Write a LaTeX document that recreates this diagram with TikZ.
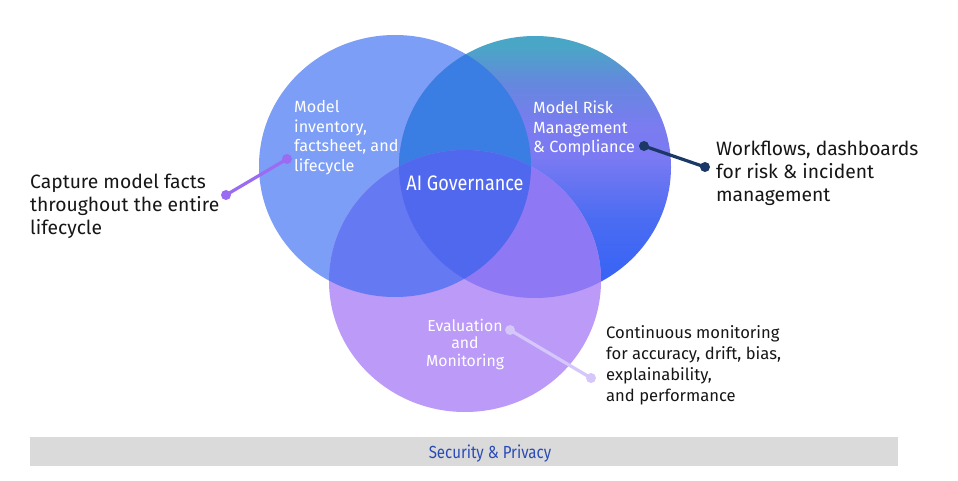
\documentclass[tikz,border=0pt]{standalone}
\usepackage{fontspec}
\setmainfont{Fira Sans}
\newfontfamily\condfont[FakeStretch=0.86]{Fira Sans}
\newcommand\mlines[2]{\begin{tabular}[t]{@{}#1@{}}#2\end{tabular}}
\definecolor{Lc}{HTML}{7C9EF6}
\definecolor{Bc}{HTML}{BC9AF8}
\definecolor{LRc}{HTML}{3A7DE3}
\definecolor{LBc}{HTML}{6479F2}
\definecolor{RBc}{HTML}{8F78F3}
\definecolor{LRBc}{HTML}{5068EE}
\definecolor{conL}{HTML}{9B6CF2}
\definecolor{conR}{HTML}{1C3867}
\definecolor{conB}{HTML}{D6C7FA}
\definecolor{barc}{HTML}{DADADA}
\definecolor{bartext}{HTML}{2A4BB5}
\definecolor{txt}{HTML}{161616}
\definecolor{Ra}{HTML}{3A64F5}
\definecolor{Rb}{HTML}{4A6CF2}
\definecolor{Rc}{HTML}{7B7AF2}
\definecolor{Rd}{HTML}{7A7CF0}
\definecolor{Re}{HTML}{6488DE}
\definecolor{Rf}{HTML}{4AA6C6}
\pgfdeclareverticalshading{rshade}{100bp}{color(0bp)=(Ra); color(30bp)=(Ra); color(40bp)=(Rb); color(52bp)=(Rc); color(58bp)=(Rd); color(66bp)=(Re); color(73bp)=(Rf); color(100bp)=(Rf)}
\tikzset{
  intext/.style={text=white, inner sep=0pt, font=\fontsize{16.2}{19.5}\selectfont},
  outtext/.style={text=txt, inner sep=0pt, font=\fontsize{19.3}{23}\selectfont},
  montext/.style={text=txt, inner sep=0pt, font=\fontsize{16.6}{21}\selectfont},
  dot/.style={circle, fill=#1, inner sep=0pt, minimum size=10pt},
  conn/.style={draw=#1, line width=3.2pt}
}
\begin{document}
\begin{tikzpicture}[x=1pt,y=-1pt]
\useasboundingbox (0,0) rectangle (958,481);
\fill[white] (0,0) rectangle (958,481);
% circles
\fill[Lc] (395,166) ellipse [x radius=136pt, y radius=131pt];
\shade[shading=rshade] (535,167) ellipse [x radius=136pt, y radius=131pt];
\fill[Bc] (465,281) ellipse [x radius=136pt, y radius=131pt];
\begin{scope}
  \clip (395,166) ellipse [x radius=136pt, y radius=131pt];
  \fill[LRc] (535,167) ellipse [x radius=136pt, y radius=131pt];
\end{scope}
\begin{scope}
  \clip (465,281) ellipse [x radius=136pt, y radius=131pt];
  \fill[LBc] (395,166) ellipse [x radius=136pt, y radius=131pt];
  \fill[RBc] (535,167) ellipse [x radius=136pt, y radius=131pt];
\end{scope}
\begin{scope}
  \clip (465,281) ellipse [x radius=136pt, y radius=131pt];
  \clip (395,166) ellipse [x radius=136pt, y radius=131pt];
  \fill[LRBc] (535,167) ellipse [x radius=136pt, y radius=131pt];
\end{scope}
% inner texts
\node[intext, anchor=base west] (inv) at (294,113) {\mlines{l}{Model\\inventory,\\factsheet, and\\lifecycle}};
\node[intext, anchor=base west] (risk) at (533,114) {\mlines{l}{Model Risk\\Management\\\& Compliance}};
\node[intext, anchor=base, font=\fontsize{15.8}{17.5}\selectfont] (eval) at (465,331) {\mlines{c}{Evaluation\\and\\Monitoring}};
\node[text=white, inner sep=0pt, anchor=base, font=\condfont\fontsize{21}{24}\selectfont] (gov) at (465,191) {AI Governance};
% outer texts
\node[outtext, anchor=base west] (cap) at (30,189) {\mlines{l}{Capture model facts\\throughout the entire\\lifecycle}};
\node[outtext, anchor=base west] (wf) at (716,156) {\mlines{l}{Workflows, dashboards\\for risk \& incident\\management}};
\node[montext, anchor=base west] (mon) at (606,338) {\mlines{l}{Continuous monitoring\\for accuracy, drift, bias,\\explainability,\\and performance}};
% connectors
\node[dot=conL] (l1) at (226,195) {};
\node[dot=conL] (l2) at (287,159) {};
\draw[conn=conL] (l1.center) -- (l2.center);
\node[dot=conR] (r1) at (644,146) {};
\node[dot=conR] (r2) at (705,167) {};
\draw[conn=conR] (r1.center) -- (r2.center);
\node[dot=conB] (b1) at (510,330) {};
\node[dot=conB] (b2) at (591,378) {};
\draw[conn=conB] (b1.center) -- (b2.center);
% bar
\node[fill=barc, minimum width=868pt, minimum height=29pt, inner sep=0pt, anchor=north west] (bar) at (30,437) {};
\node[text=bartext, inner sep=0pt, anchor=base, font=\condfont\fontsize{17.5}{20}\selectfont] (sec) at (490,458) {Security \& Privacy};
\end{tikzpicture}
\end{document}
